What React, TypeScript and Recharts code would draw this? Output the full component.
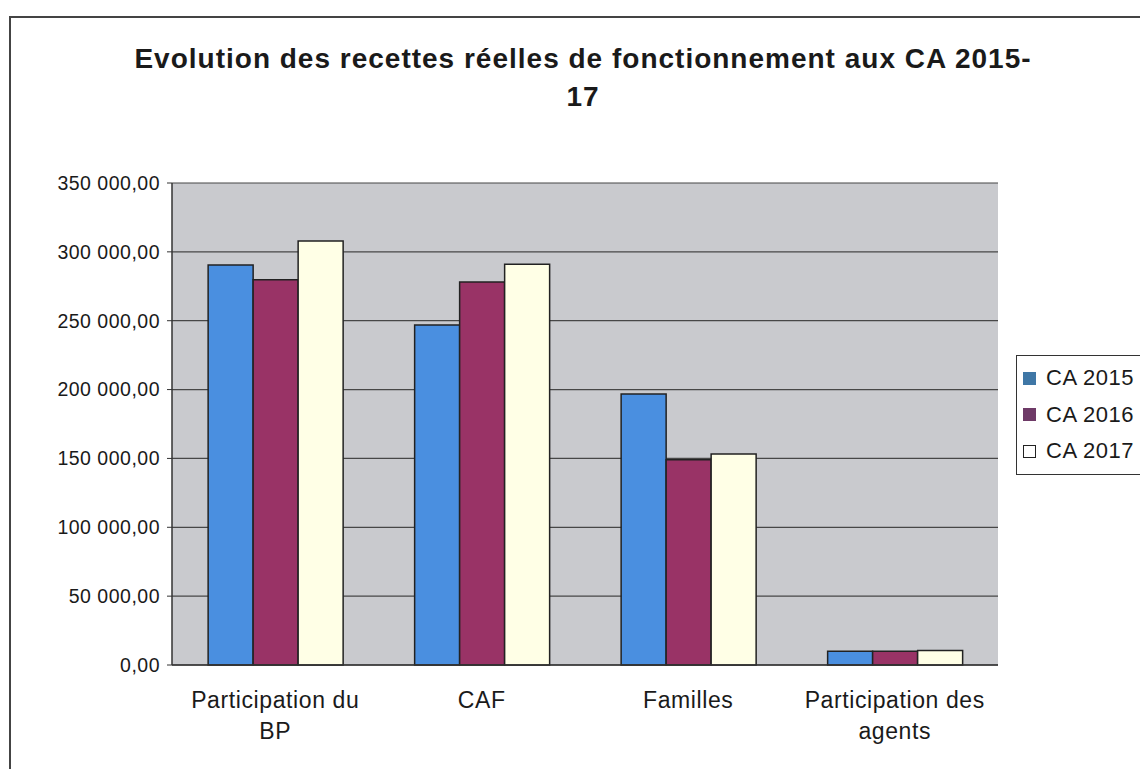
import React from "react";
import { BarChart, Bar, XAxis, YAxis, CartesianGrid } from "recharts";

const categories = ["Participation du BP", "CAF", "Familles", "Participation des agents"];
const categoryLines = [["Participation du", "BP"], ["CAF"], ["Familles"], ["Participation des", "agents"]];
const ca2015 = [290500, 246800, 196800, 10000];
const ca2016 = [279800, 278200, 149000, 10000];
const ca2017 = [307800, 291000, 153200, 10500];
const yTicks = [0, 50000, 100000, 150000, 200000, 250000, 300000, 350000];
const seriesNames = ["CA 2015", "CA 2016", "CA 2017"];
const seriesColors = ["#4a8fe0", "#993366", "#ffffe6"];
const legendMarkers = ["#3f77a6", "#6e3a67", "#ffffff"];

const FONT = "Liberation Sans, Arial, sans-serif";

const data = categories.map((c, i) => ({
  name: c,
  s2015: ca2015[i],
  s2016: ca2016[i],
  s2017: ca2017[i],
}));

const fmt = (v: number) => {
  const s = Math.round(v).toString().replace(/\B(?=(\d{3})+(?!\d))/g, " ");
  return s + ",00";
};

const XTick = (props: any) => {
  const { x, y, payload, index } = props;
  const lines = categoryLines[index] || [payload.value];
  return (
    <g>
      {lines.map((l: string, i: number) => (
        <text
          key={i}
          x={x}
          y={y + 35 + i * 31}
          textAnchor="middle"
          fontSize={23}
          letterSpacing={0.6}
          fontFamily={FONT}
          fill="#1a1a1a"
        >
          {l}
        </text>
      ))}
    </g>
  );
};

const LegendBox = () => (
  <div
    style={{
      position: "absolute",
      left: 1016,
      top: 355,
      width: 160,
      height: 120,
      boxSizing: "border-box",
      border: "1px solid #333",
      background: "#fff",
      padding: "4px 0 0 6px",
      fontFamily: FONT,
      fontSize: 22,
      letterSpacing: 0.5,
      color: "#1a1a1a",
    }}
  >
    {seriesNames.map((n, i) => (
      <div key={n} style={{ display: "flex", alignItems: "center", height: 36.5 }}>
        <span
          style={{
            display: "inline-block",
            width: 11,
            height: 11,
            background: legendMarkers[i],
            border: i === 2 ? "1px solid #222" : "1px solid transparent",
            marginRight: 10,
          }}
        />
        {n}
      </div>
    ))}
  </div>
);

export default function App() {
  return (
    <div
      style={{
        position: "absolute",
        left: 0,
        top: 0,
        width: 1140,
        height: 769,
        background: "#fff",
        overflow: "hidden",
      }}
    >
      <div
        style={{
          position: "absolute",
          left: 9,
          top: 16,
          width: 1160,
          height: 800,
          border: "2px solid #444",
          boxSizing: "border-box",
        }}
      />
      <div
        style={{
          position: "absolute",
          left: 0,
          top: 40,
          width: 1166,
          textAlign: "center",
          fontFamily: FONT,
          fontWeight: "bold",
          fontSize: 28,
          letterSpacing: 1,
          lineHeight: "38px",
          color: "#1a1a1a",
        }}
      >
        Evolution des recettes réelles de fonctionnement aux CA 2015-
        <br />
        17
      </div>
      <div style={{ position: "absolute", left: 0, top: 0 }}>
        <BarChart
          width={1140}
          height={769}
          data={data}
          margin={{ top: 183, right: 142, bottom: 0, left: 0 }}
          barCategoryGap="17.5%"
          barGap={0}
        >
          <CartesianGrid
            vertical={false}
            stroke="#474747"
            strokeWidth={1.2}
            fill="#c9cace"
            fillOpacity={1}
          />
          <XAxis
            dataKey="name"
            tick={<XTick />}
            tickLine={false}
            axisLine={{ stroke: "#333", strokeWidth: 1.5 }}
            interval={0}
            height={104}
          />
          <YAxis
            width={172}
            domain={[0, 350000]}
            ticks={yTicks}
            tickFormatter={fmt}
            tick={{ fontSize: 19.5, fill: "#1a1a1a", fontFamily: FONT, letterSpacing: 0.5 }}
            tickLine={{ stroke: "#333" }}
            tickSize={5}
            tickMargin={7}
            axisLine={{ stroke: "#333", strokeWidth: 1.5 }}
          />
          <Bar dataKey="s2015" name={seriesNames[0]} fill={seriesColors[0]} stroke="#222" strokeWidth={1.5} isAnimationActive={false} />
          <Bar dataKey="s2016" name={seriesNames[1]} fill={seriesColors[1]} stroke="#222" strokeWidth={1.5} isAnimationActive={false} />
          <Bar dataKey="s2017" name={seriesNames[2]} fill={seriesColors[2]} stroke="#222" strokeWidth={1.5} isAnimationActive={false} />
        </BarChart>
      </div>
      <LegendBox />
    </div>
  );
}
